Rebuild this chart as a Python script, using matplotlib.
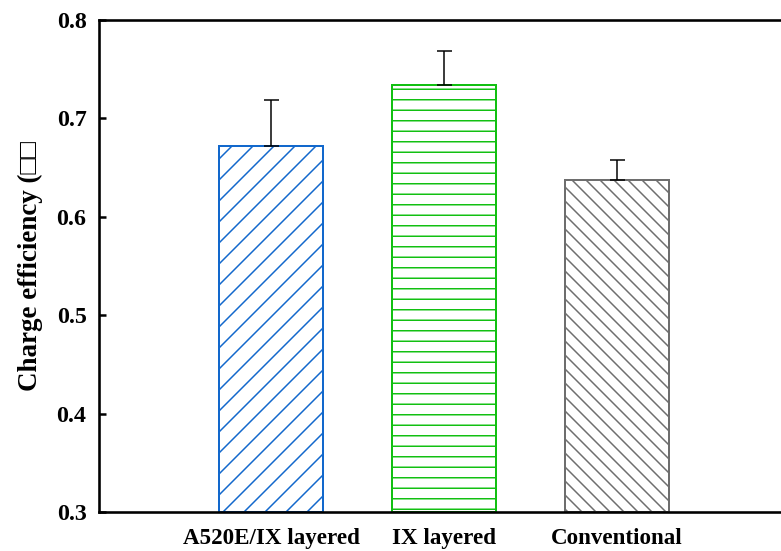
import matplotlib
matplotlib.use('Agg')
import matplotlib.pyplot as plt
import numpy as np

# data
groups = ['A520E/IX layered', 'IX layered', 'Conventional']
efficiency = [0.672, 0.734, 0.637]
err_up = [0.047, 0.034, 0.021]
hatches = ['//', '--', '\\\\\\']
colors = ['#1268cc', '#12c012', '#6e6e6e']
y_ticks = [0.3, 0.4, 0.5, 0.6, 0.7, 0.8]

# hatch spacing follows the dpi, 126 gives the closest line spacing
dpi = 126
def px(v):
    return v * 72.0 / dpi

plt.rcParams['font.family'] = ['Liberation Serif', 'DejaVu Serif']
plt.rcParams['font.weight'] = 'bold'
plt.rcParams['hatch.linewidth'] = px(1.5)

fig = plt.figure(figsize=(781 / dpi, 551 / dpi), dpi=dpi)
ax = fig.add_axes([98.5 / 781, 1 - 512 / 551, 1 - 98.5 / 781, (512 - 20) / 551])

x = np.arange(len(groups))
for i in range(len(groups)):
    ax.bar(x[i], efficiency[i] - 0.3, bottom=0.3, width=0.6, color='white',
           edgecolor=colors[i], hatch=hatches[i], linewidth=px(2), zorder=2)
ax.errorbar(x, efficiency, yerr=[np.zeros(len(err_up)), err_up], fmt='none',
            ecolor='black', elinewidth=px(1.5), capsize=px(7.5), capthick=px(1.5), zorder=3)

ax.set_xlim(-1.0, 2.95)
ax.set_ylim(0.3, 0.8)
ax.set_yticks(y_ticks)
ax.set_yticklabels(['%.1f' % t for t in y_ticks], fontsize=px(24), fontweight='bold')
ax.set_xticks(x)
ax.set_xticklabels(groups, fontsize=px(23), fontweight='bold')
ax.tick_params(axis='x', length=0, pad=px(16))
ax.tick_params(axis='y', direction='in', length=px(7), width=px(2.5), pad=px(12))
ax.set_ylabel('Charge efficiency (\u25a1\u25a1', fontsize=px(27), fontweight='bold', labelpad=px(14))

for s in ['left', 'top', 'bottom']:
    ax.spines[s].set_linewidth(px(2.6))
ax.spines['right'].set_visible(False)

fig.savefig('out.png', dpi=dpi)
